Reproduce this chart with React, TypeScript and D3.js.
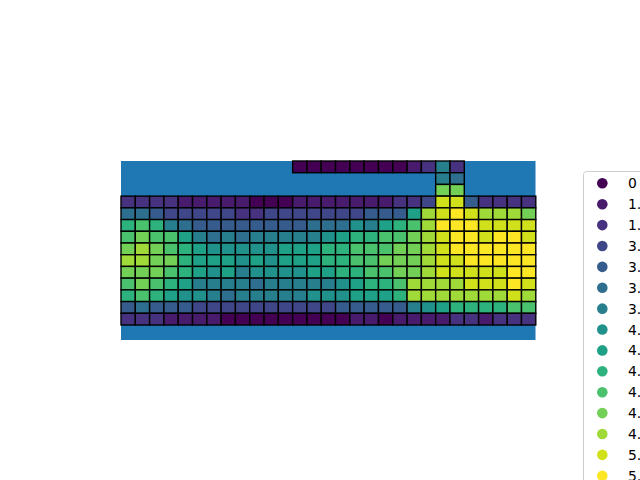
import React from "react";
import * as d3 from "d3";

// Legend levels (hue values) and their labels
const levelValues = [0, 1.1, 1.61, 3.04, 3.33, 3.56, 3.81, 4.04, 4.23, 4.39, 4.55, 4.7, 4.86, 5.01, 5.2];
const levelLabels = ["0", "1.1", "1.6", "3.0", "3.3", "3.5", "3.8", "4.0", "4.2", "4.4", "4.5", "4.7", "4.9", "5.0", "5.2"];

// Column / row indices of the grid
const columns = d3.range(29);
const rowsIdx = d3.range(14);

// Level index per cell (-1 = no cell), one array per row
const row0 = [-1,-1,-1,-1,-1,-1,-1,-1,-1,-1,-1,-1, 0,0,0,0,0,0,0,0, 1,2,6,2, -1,-1,-1,-1,-1];
const row1 = [-1,-1,-1,-1,-1,-1,-1,-1,-1,-1,-1,-1,-1,-1,-1,-1,-1,-1,-1,-1,-1,-1, 6,5, -1,-1,-1,-1,-1];
const row2 = [-1,-1,-1,-1,-1,-1,-1,-1,-1,-1,-1,-1,-1,-1,-1,-1,-1,-1,-1,-1,-1,-1, 11,11, -1,-1,-1,-1,-1];
const row3 = [2,2,2,2,1,1,1,1,1,0, 0,0,1,1,1,1,1,1,1,2, 2,3,13,13,4,2,2,2,2];
const row4 = [5,5,4,3,3,3,3,3,2,2, 3,3,3,3,3,3,3,4,4,4, 8,12,13,14,13,12,12,12,11];
const row5 = [9,10,9,6,5,4,4,4,4,4, 4,4,4,5,5,5,7,6,8,9, 10,12,14,14,14,13,13,13,13];
const row6 = [10,11,10,10,8,6,5,6,5,6, 6,6,6,6,7,8,9,9,10,10, 11,12,13,14,14,13,14,14,13];
const row7 = [11,12,11,10,9,8,7,7,7,7, 7,8,8,8,9,9,10,10,10,11, 11,12,13,14,14,14,14,14,14];
const row8 = [12,12,11,11,9,8,8,8,7,8, 7,8,8,8,9,9,10,10,11,11, 11,12,13,13,14,14,14,14,14];
const row9 = [11,11,11,10,9,8,7,8,6,7, 7,7,7,8,8,9,9,10,10,11, 11,12,13,13,13,13,13,14,14];
const row10 = [10,11,10,9,8,6,6,6,6,5, 6,6,6,6,6,7,8,9,9,10, 12,12,12,12,13,13,13,14,13];
const row11 = [9,10,9,8,7,7,6,5,6,6, 6,6,6,7,7,7,8,8,8,9, 12,12,12,12,12,12,12,13,12];
const row12 = [4,5,4,4,4,3,3,3,3,3, 3,3,3,3,3,4,4,4,4,4, 6,7,8,9,9,9,9,10,10];
const row13 = [2,2,2,1,1,1,1,0,0,0, 0,0,0,0,0,0,1,1,0,1, 1,1,1,2,2,1,2,2,2];

const gridRows = [row0, row1, row2, row3, row4, row5, row6, row7, row8, row9, row10, row11, row12, row13];

export default function App() {
  const W = 640, H = 480;
  const axLeft = 121, axRight = 535.5, axTop = 161, axBottom = 340;
  const gridBottom = 325;

  const x = d3.scaleBand<number>().domain(columns).range([axLeft, 535.8]);
  const y = d3.scaleBand<number>().domain(rowsIdx).range([axTop, gridBottom]);
  const color = d3.scaleSequential(d3.interpolateViridis).domain([0, levelValues.length - 1]);

  const cells: { r: number; c: number; l: number }[] = [];
  gridRows.forEach((row, r) => row.forEach((l, c) => { if (l >= 0) cells.push({ r, c, l }); }));

  const legX = 583.5, legY = 171.5;
  const legItemY = (i: number) => 183.3 + i * 20.89;

  return (
    <svg width={W} height={H} style={{ position: "absolute", left: 0, top: 0 }} fontFamily="DejaVu Sans">
      <rect x={0} y={0} width={W} height={H} fill="#ffffff" />
      <rect x={axLeft} y={axTop} width={axRight - axLeft} height={axBottom - axTop} fill="#1f77b4" />
      <g>
        {cells.map((d, i) => (
          <rect key={i} x={x(d.c)} y={y(d.r)} width={x.bandwidth()} height={y.bandwidth()}
            fill={color(d.l)} stroke="#000000" strokeWidth={1.4} />
        ))}
      </g>
      <g>
        <rect x={legX} y={legY} width={90} height={330} rx={3} fill="#ffffff" fillOpacity={0.8} stroke="#cccccc" strokeWidth={1} />
        {levelLabels.map((lab, i) => (
          <g key={i}>
            <circle cx={602.3} cy={legItemY(i)} r={5.3} fill={color(i)} />
            <text x={628} y={legItemY(i)} dy="0.36em" fontSize={13.9} fill="#000000">{lab}</text>
          </g>
        ))}
      </g>
    </svg>
  );
}
